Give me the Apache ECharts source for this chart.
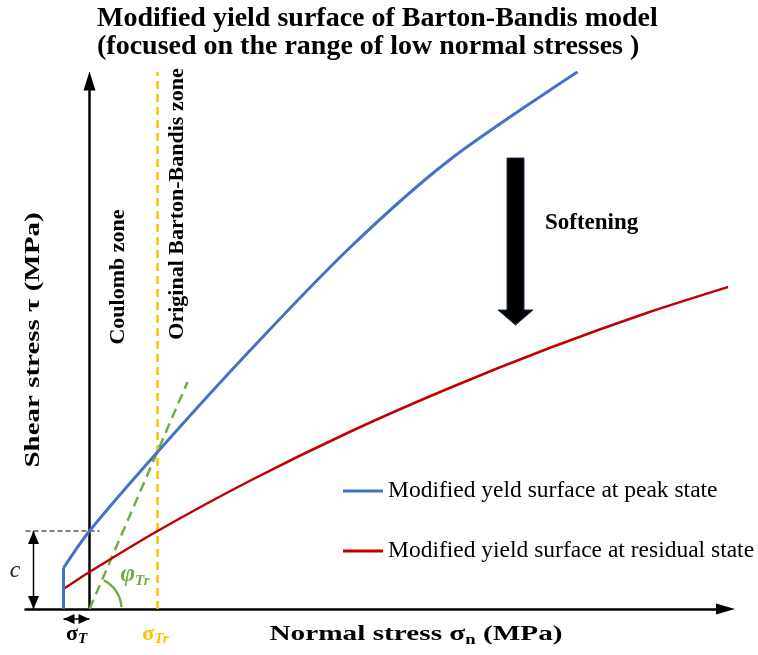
<!DOCTYPE html>
<html>
<head>
<meta charset="utf-8">
<script src="https://cdn.jsdelivr.net/npm/echarts@6/dist/echarts.min.js"></script>
<style>
  html, body { margin: 0; padding: 0; background: #fff; }
  #chart { width: 758px; height: 655px; }
</style>
</head>
<body>
<div id="chart"></div>
<script>
// Normal stress (schematic MPa units) and shear strength on the two yield surfaces
const peakSigma = [-1.3, 0, 3.4, 8.0, 13.0, 18.0, 24.4];
const peakTau = [2.05, 3.9, 7.85, 12.9, 18.05, 22.45, 26.85];
const residualSigma = [-1.3, 0, 3.4, 8.0, 13.0, 18.0, 23.0, 28.0, 32.4];
const residualTau = [1.0, 1.85, 3.9, 6.4, 8.85, 11.05, 13.05, 14.85, 16.25];

// Key parameters of the modified criterion
const sigmaT = -1.3;      // tensile cut-off
const cohesion = 3.9;     // peak intercept c
const sigmaTr = 3.4;      // transition stress Coulomb / Barton-Bandis
const zoneTop = 26.85;    // height of the transition marker
const frictionSigma = [0, 4.9];      // tangent line at phi_Tr
const frictionTau = [0, 11.35];

// Axis extents
const xMin = -3.2, xMax = 31.8;
const yMin = 0, yMax = 26.4;

// Dimension arrows
const cArrowSigma = -2.8;
const sigmaTArrowTau = -0.5;
const cGuideEnd = 0.5;

const seriesNames = [
  'Modified yeld surface at peak state',
  'Modified yield surface at residual state'
];

const BLUE = '#4472C4', RED = '#C00000', YELLOW = '#FFC000', GREEN = '#70AD47';
const serif = "'Liberation Serif', 'Times New Roman', serif";
const pairs = (xs, ys) => xs.map((x, i) => [x, ys[i]]);

const chart = echarts.init(document.getElementById('chart'), null, { renderer: 'canvas' });

const hiddenAxisBits = {
  axisTick: { show: false },
  axisLabel: { show: false },
  splitLine: { show: false }
};

const plain = { type: 'line', symbol: 'none', clip: false, silent: true };

chart.setOption({
  animation: false,
  backgroundColor: '#fff',
  title: {
    text: 'Modified yield surface of Barton-Bandis model\n(focused on the range of low normal stresses )',
    left: 97,
    top: 5,
    padding: 0,
    textAlign: 'left',
    textStyle: {
      fontFamily: serif, fontWeight: 'bold', fontSize: 28, lineHeight: 28, color: '#000'
    }
  },
  legend: {
    data: seriesNames,
    orient: 'vertical',
    left: 343,
    top: 478,
    padding: 0,
    itemWidth: 40,
    itemHeight: 3,
    itemGap: 34,
    icon: 'rect',
    selectedMode: false,
    textStyle: { fontFamily: serif, fontSize: 23.5, lineHeight: 26, color: '#000' }
  },
  grid: { left: 25.5, right: 32.5, top: 81, bottom: 46, outerBoundsMode: 'none' },
  xAxis: Object.assign({
    type: 'value', min: xMin, max: xMax,
    axisLine: {
      show: true, onZero: true,
      symbol: ['none', 'triangle'], symbolSize: [11, 19],
      lineStyle: { color: '#000', width: 2.5 }
    }
  }, hiddenAxisBits),
  yAxis: Object.assign({
    type: 'value', min: yMin, max: yMax,
    axisLine: {
      show: true, onZero: true,
      symbol: ['none', 'triangle'], symbolSize: [12, 19],
      lineStyle: { color: '#000', width: 2.5 }
    }
  }, hiddenAxisBits),
  series: [
    // transition stress marker
    Object.assign({}, plain, {
      data: [[sigmaTr, 0], [sigmaTr, zoneTop]],
      lineStyle: { color: YELLOW, width: 2.5, type: [8, 5] }, z: 2
    }),
    // friction angle tangent
    Object.assign({}, plain, {
      data: pairs(frictionSigma, frictionTau),
      lineStyle: { color: GREEN, width: 2.5, type: [10, 6] }, z: 2
    }),
    // cohesion guide
    Object.assign({}, plain, {
      data: [[xMin, cohesion], [cGuideEnd, cohesion]],
      lineStyle: { color: '#000', width: 1, type: [5, 3] }, z: 2
    }),
    // residual surface
    Object.assign({}, plain, {
      name: seriesNames[1],
      data: pairs(residualSigma, residualTau),
      smooth: 0.25,
      itemStyle: { color: RED },
      lineStyle: { color: RED, width: 2.5 }, z: 3
    }),
    // tensile cut-off of the peak surface
    Object.assign({}, plain, {
      data: [[sigmaT, 0], [sigmaT, peakTau[0]]],
      lineStyle: { color: BLUE, width: 3 }, z: 4
    }),
    // peak surface
    Object.assign({}, plain, {
      name: seriesNames[0],
      data: pairs(peakSigma, peakTau),
      smooth: 0.3,
      itemStyle: { color: BLUE },
      lineStyle: { color: BLUE, width: 3 }, z: 4
    }),
    // c dimension arrow
    {
      type: 'line', clip: false, silent: true, showSymbol: true,
      symbol: 'triangle', symbolSize: [11, 13],
      itemStyle: { color: '#000' },
      lineStyle: { color: '#000', width: 1.5 },
      data: [
        { value: [cArrowSigma, 0], symbolRotate: 180, symbolOffset: [0, -6.5] },
        { value: [cArrowSigma, cohesion], symbolRotate: 0, symbolOffset: [0, 6.5] }
      ], z: 5
    },
    // sigma_T dimension arrow
    {
      type: 'line', clip: false, silent: true, showSymbol: true,
      symbol: 'triangle', symbolSize: [10, 11],
      itemStyle: { color: '#000' },
      lineStyle: { color: '#000', width: 1.5 },
      data: [
        { value: [sigmaT, sigmaTArrowTau], symbolRotate: 90, symbolOffset: [5.5, 0] },
        { value: [0, sigmaTArrowTau], symbolRotate: -90, symbolOffset: [-5.5, 0] }
      ], z: 5
    }
  ]
});

// Annotations placed from the axis scales
const px = v => chart.convertToPixel({ gridIndex: 0 }, v);
const origin = px([0, 0]);
const fEnd = px([frictionSigma[1], frictionTau[1]]);
const phiAngle = Math.atan2(fEnd[1] - origin[1], fEnd[0] - origin[0]);
const sigTx = (px([sigmaT, 0])[0] + origin[0]) / 2;
const sigTrx = px([sigmaTr, 0])[0];

function subLabel(x, y, main, sub, color, mainStyle, subStyle) {
  return {
    type: 'text', x: x, y: y, z: 20, silent: true,
    style: {
      text: '{s|' + main + '}{t|' + sub + '}',
      align: 'center', verticalAlign: 'middle',
      rich: {
        s: Object.assign({ fontFamily: serif, fontSize: 22, lineHeight: 26, fill: color }, mainStyle),
        t: Object.assign({ fontFamily: serif, fontSize: 15, lineHeight: 15, fill: color, verticalAlign: 'bottom' }, subStyle)
      }
    }
  };
}

chart.setOption({
  graphic: [
    // friction angle arc
    {
      type: 'arc', silent: true, z: 6,
      shape: { cx: origin[0], cy: origin[1], r: 32, startAngle: phiAngle + 0.06, endAngle: -0.06, clockwise: true },
      style: { stroke: GREEN, lineWidth: 2.5, fill: null }
    },
    // softening arrow
    {
      type: 'polygon', silent: true, z: 6,
      shape: { points: [[507, 158], [524, 158], [524, 310], [533, 310], [515.5, 325], [498, 310], [507, 310]] },
      style: { fill: '#000', stroke: '#1F3354', lineWidth: 1 }
    },
    {
      type: 'text', x: 545, y: 223, silent: true,
      style: { text: 'Softening', fontFamily: serif, fontWeight: 'bold', fontSize: 23, fill: '#000', align: 'left', verticalAlign: 'middle' }
    },
    {
      type: 'text', x: 118, y: 277, rotation: Math.PI / 2, silent: true,
      style: { text: 'Coulomb zone', fontFamily: serif, fontWeight: 'bold', fontSize: 22, fill: '#000', align: 'center', verticalAlign: 'middle' }
    },
    {
      type: 'text', x: 177, y: 204, rotation: Math.PI / 2, silent: true,
      style: { text: 'Original Barton-Bandis zone', fontFamily: serif, fontWeight: 'bold', fontSize: 22, fill: '#000', align: 'center', verticalAlign: 'middle' }
    },
    // axis titles
    {
      type: 'text', x: 34, y: 340, rotation: Math.PI / 2, scaleX: 1.38, silent: true,
      style: { text: 'Shear stress τ (MPa)', fontFamily: serif, fontWeight: 'bold', fontSize: 21, fill: '#000', align: 'center', verticalAlign: 'middle' }
    },
    {
      type: 'text', x: 416, y: 634, scaleX: 1.33, silent: true,
      style: {
        text: '{a|Normal stress σ}{b|n}{a| (MPa)}',
        align: 'center', verticalAlign: 'middle',
        rich: {
          a: { fontFamily: serif, fontWeight: 'bold', fontSize: 22, lineHeight: 26, fill: '#000' },
          b: { fontFamily: serif, fontWeight: 'bold', fontSize: 14, lineHeight: 14, fill: '#000', verticalAlign: 'bottom' }
        }
      }
    },
    // parameter labels
    {
      type: 'text', x: 15, y: 571, silent: true,
      style: { text: 'c', fontFamily: serif, fontStyle: 'italic', fontSize: 24, fill: '#222', align: 'center', verticalAlign: 'middle' }
    },
    subLabel(sigTx, 634, 'σ', 'T', '#000', { fontWeight: 'bold' }, { fontStyle: 'italic', fontWeight: 'bold' }),
    subLabel(sigTrx - 2, 634, 'σ', 'Tr', YELLOW, { fontWeight: 'bold' }, { fontStyle: 'italic', fontWeight: 'bold' }),
    subLabel(135, 575, 'φ', 'Tr', GREEN, { fontStyle: 'italic', fontWeight: 'bold', fontSize: 25, lineHeight: 28 }, { fontStyle: 'italic', fontWeight: 'bold' })
  ]
});
</script>
</body>
</html>
